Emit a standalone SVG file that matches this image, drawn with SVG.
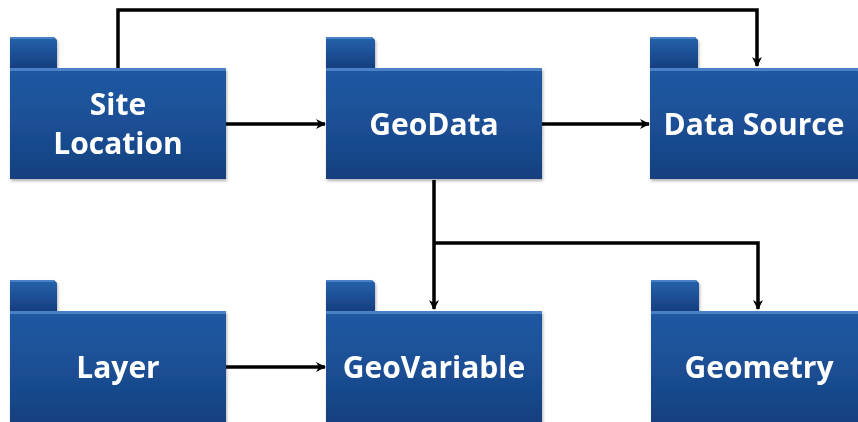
<svg xmlns="http://www.w3.org/2000/svg" width="858" height="422" viewBox="0 0 858 422">
<style>
.body{fill:url(#gBody);}
.tab{fill:url(#gTab);}
.hl{fill:#4a80c6;}
.lbl{font-family:"Open Sans","Noto Sans",sans-serif;font-weight:bold;font-size:30px;fill:#ffffff;text-anchor:middle;}
.wire{fill:none;stroke:#000;stroke-width:3.5;}
</style>
<defs>
<linearGradient id="gBody" x1="0" y1="0" x2="0" y2="1">
<stop offset="0" stop-color="#2059a3"/>
<stop offset="0.5" stop-color="#1b4f95"/>
<stop offset="1" stop-color="#14407f"/>
</linearGradient>
<linearGradient id="gTab" x1="0" y1="0" x2="0" y2="1">
<stop offset="0" stop-color="#2563ad"/>
<stop offset="1" stop-color="#163f80"/>
</linearGradient>
<filter id="sh" x="-5%" y="-5%" width="110%" height="115%">
<feDropShadow dx="1" dy="2" stdDeviation="1.5" flood-color="#000" flood-opacity="0.3"/>
</filter>
<marker id="ah" markerWidth="10" markerHeight="10" refX="9" refY="5" orient="auto" markerUnits="userSpaceOnUse">
<path d="M0,0 L10,5 L0,10 L3,5 Z" fill="#000"/>
</marker>
</defs>

<g id="connectors">
<polyline class="wire" points="118,68 118,10 757,10 757,66" marker-end="url(#ah)"/>
<line class="wire" x1="226" y1="124" x2="325" y2="124" marker-end="url(#ah)"/>
<line class="wire" x1="542" y1="124" x2="649" y2="124" marker-end="url(#ah)"/>
<line class="wire" x1="434" y1="180" x2="434" y2="309" marker-end="url(#ah)"/>
<polyline class="wire" points="434,243 758,243 758,309" marker-end="url(#ah)"/>
<line class="wire" x1="226" y1="367" x2="325" y2="367" marker-end="url(#ah)"/>
</g>

<g id="site-location" filter="url(#sh)">
<path class="tab" d="M10,68 V37 H54 L57,40 V68 Z"/>
<rect class="hl" x="10" y="37" width="44" height="2"/>
<rect class="body" x="10" y="68" width="216" height="111"/>
<rect class="hl" x="10" y="68" width="216" height="3"/>
<text class="lbl" x="118" y="115">Site</text>
<text class="lbl" x="118" y="154">Location</text>
</g>

<g id="geodata" filter="url(#sh)">
<path class="tab" d="M326,68 V37 H372 L375,40 V68 Z"/>
<rect class="hl" x="326" y="37" width="46" height="2"/>
<rect class="body" x="326" y="68" width="216" height="111"/>
<rect class="hl" x="326" y="68" width="216" height="3"/>
<text class="lbl" x="434" y="135">GeoData</text>
</g>

<g id="data-source" filter="url(#sh)">
<path class="tab" d="M650,68 V37 H695 L698,40 V68 Z"/>
<rect class="hl" x="650" y="37" width="45" height="2"/>
<rect class="body" x="650" y="68" width="210" height="111"/>
<rect class="hl" x="650" y="68" width="210" height="3"/>
<text class="lbl" x="754" y="135">Data Source</text>
</g>

<g id="layer" filter="url(#sh)">
<path class="tab" d="M10,311 V280 H54 L57,283 V311 Z"/>
<rect class="hl" x="10" y="280" width="44" height="2"/>
<rect class="body" x="10" y="311" width="216" height="111"/>
<rect class="hl" x="10" y="311" width="216" height="3"/>
<text class="lbl" x="118" y="378">Layer</text>
</g>

<g id="geovariable" filter="url(#sh)">
<path class="tab" d="M326,311 V280 H372 L375,283 V311 Z"/>
<rect class="hl" x="326" y="280" width="46" height="2"/>
<rect class="body" x="326" y="311" width="216" height="111"/>
<rect class="hl" x="326" y="311" width="216" height="3"/>
<text class="lbl" x="434" y="378">GeoVariable</text>
</g>

<g id="geometry" filter="url(#sh)">
<path class="tab" d="M651,311 V280 H696 L699,283 V311 Z"/>
<rect class="hl" x="651" y="280" width="45" height="2"/>
<rect class="body" x="651" y="311" width="209" height="111"/>
<rect class="hl" x="651" y="311" width="209" height="3"/>
<text class="lbl" x="759" y="378">Geometry</text>
</g>
</svg>
